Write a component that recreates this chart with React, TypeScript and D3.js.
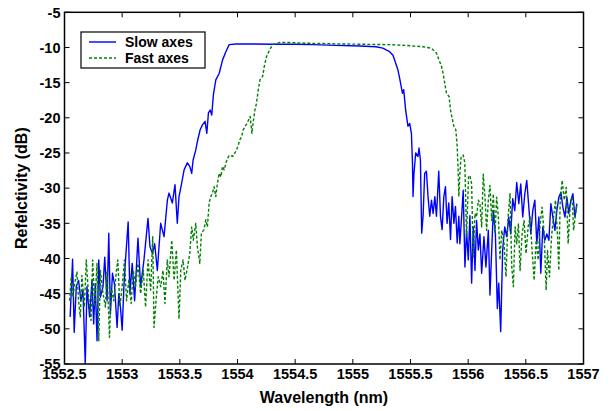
import React from 'react';
import * as d3 from 'd3';

// [wavelength (nm), reflectivity (dB)]
const slowAxes: [number, number][] = [
  [1552.549, -48.3], [1552.570, -40.1], [1552.584, -50.5], [1552.602, -44.0], [1552.622, -43.1], [1552.642, -46.0],
  [1552.660, -44.5], [1552.680, -55.0], [1552.695, -44.0], [1552.718, -48.3], [1552.738, -43.1], [1552.753, -49.3],
  [1552.767, -43.6], [1552.782, -51.7], [1552.797, -40.2], [1552.811, -45.5], [1552.834, -44.0], [1552.849, -39.8],
  [1552.869, -46.0], [1552.884, -36.4], [1552.898, -47.9], [1552.916, -42.1], [1552.933, -43.6], [1552.956, -49.8],
  [1552.971, -45.0], [1552.985, -46.9], [1553.000, -50.2], [1553.015, -44.0], [1553.029, -40.2], [1553.052, -34.8],
  [1553.067, -45.0], [1553.087, -40.7], [1553.108, -46.0], [1553.137, -37.1], [1553.160, -44.0], [1553.189, -40.2],
  [1553.224, -34.3], [1553.241, -38.3], [1553.262, -39.3], [1553.282, -37.9], [1553.305, -41.7], [1553.334, -35.0],
  [1553.363, -36.9], [1553.392, -31.7], [1553.406, -30.7], [1553.435, -32.1], [1553.458, -29.5], [1553.478, -35.0],
  [1553.493, -31.2], [1553.516, -29.3], [1553.537, -27.4], [1553.565, -26.4], [1553.586, -26.9], [1553.603, -27.9],
  [1553.615, -26.0], [1553.638, -24.6], [1553.652, -23.4], [1553.676, -21.7], [1553.696, -21.0], [1553.719, -20.5],
  [1553.734, -22.2], [1553.748, -19.3], [1553.763, -18.9], [1553.777, -19.6], [1553.791, -16.7], [1553.812, -14.6],
  [1553.841, -13.7], [1553.870, -11.8], [1553.899, -10.6], [1553.928, -9.6], [1553.986, -9.5], [1554.1, -9.5],
  [1554.3, -9.55], [1554.5, -9.55], [1554.655, -9.6], [1554.85, -9.7], [1555.06, -9.8], [1555.2, -9.9],
  [1555.26, -10.1], [1555.319, -10.6], [1555.348, -11.1], [1555.371, -12.2], [1555.391, -13.2], [1555.406, -14.4],
  [1555.430, -16.5], [1555.441, -16.0], [1555.458, -18.9], [1555.470, -20.3], [1555.478, -21.2], [1555.493, -20.8],
  [1555.508, -22.2], [1555.517, -26.4], [1555.522, -31.2], [1555.530, -27.9], [1555.545, -25.0], [1555.565, -25.5],
  [1555.574, -24.3], [1555.586, -26.0], [1555.597, -36.4], [1555.609, -34.0], [1555.623, -27.9], [1555.638, -27.6],
  [1555.652, -31.2], [1555.667, -34.0], [1555.682, -31.7], [1555.696, -33.6], [1555.711, -31.2], [1555.725, -34.0],
  [1555.745, -27.6], [1555.760, -34.0], [1555.774, -35.9], [1555.789, -31.2], [1555.803, -29.8], [1555.817, -35.0],
  [1555.832, -32.1], [1555.847, -37.3], [1555.861, -31.2], [1555.876, -35.0], [1555.890, -32.6], [1555.905, -37.8],
  [1555.919, -34.0], [1555.928, -37.9], [1555.943, -34.1], [1555.957, -30.3], [1555.972, -41.2], [1555.986, -36.0],
  [1556.001, -40.2], [1556.015, -33.9], [1556.030, -43.5], [1556.044, -35.5], [1556.059, -41.7], [1556.073, -34.6],
  [1556.088, -38.8], [1556.102, -36.5], [1556.117, -42.1], [1556.137, -36.9], [1556.154, -41.2], [1556.175, -36.0],
  [1556.189, -45.2], [1556.204, -38.8], [1556.218, -33.2], [1556.236, -36.5], [1556.253, -47.1], [1556.265, -43.5],
  [1556.282, -50.4], [1556.299, -38.8], [1556.317, -35.5], [1556.334, -36.9], [1556.352, -34.1], [1556.369, -36.5],
  [1556.386, -31.5], [1556.404, -33.2], [1556.421, -29.2], [1556.439, -32.2], [1556.456, -29.4], [1556.473, -34.1],
  [1556.491, -30.8], [1556.508, -28.9], [1556.526, -32.7], [1556.543, -36.5], [1556.560, -33.2], [1556.578, -31.7],
  [1556.595, -37.9], [1556.613, -34.1], [1556.630, -42.1], [1556.647, -35.5], [1556.665, -37.4], [1556.682, -36.5],
  [1556.700, -37.4], [1556.717, -32.2], [1556.734, -34.1], [1556.752, -36.0], [1556.769, -33.2], [1556.786, -31.3],
  [1556.804, -30.6], [1556.821, -32.7], [1556.839, -34.1], [1556.856, -31.3], [1556.873, -33.6], [1556.891, -31.7],
  [1556.908, -30.8], [1556.926, -34.1], [1556.943, -32.2],
];

const fastAxes: [number, number][] = [
  [1552.544, -46.0], [1552.558, -42.6], [1552.573, -45.5], [1552.593, -43.1], [1552.608, -41.9], [1552.622, -46.0],
  [1552.637, -48.3], [1552.651, -42.4], [1552.672, -46.9], [1552.689, -40.2], [1552.709, -45.5], [1552.730, -48.8],
  [1552.744, -40.2], [1552.762, -46.9], [1552.782, -40.7], [1552.797, -51.7], [1552.811, -41.7], [1552.834, -45.0],
  [1552.855, -46.9], [1552.869, -41.7], [1552.890, -51.2], [1552.904, -44.0], [1552.927, -46.0], [1552.948, -42.1],
  [1552.962, -40.2], [1552.980, -46.9], [1553.000, -44.0], [1553.020, -40.2], [1553.038, -46.0], [1553.058, -43.1],
  [1553.078, -46.4], [1553.096, -41.7], [1553.116, -44.0], [1553.137, -40.7], [1553.160, -45.0], [1553.183, -41.7],
  [1553.203, -46.9], [1553.224, -40.2], [1553.247, -44.5], [1553.265, -36.9], [1553.276, -49.8], [1553.296, -45.5],
  [1553.313, -42.6], [1553.334, -44.0], [1553.354, -41.7], [1553.371, -46.4], [1553.391, -40.2], [1553.406, -42.6],
  [1553.430, -37.4], [1553.450, -43.1], [1553.470, -38.8], [1553.493, -48.6], [1553.508, -41.7], [1553.528, -40.2],
  [1553.545, -43.1], [1553.565, -41.4], [1553.586, -39.3], [1553.603, -35.5], [1553.617, -37.4], [1553.638, -35.0],
  [1553.652, -38.3], [1553.673, -40.7], [1553.687, -36.4], [1553.710, -35.9], [1553.725, -34.5], [1553.739, -35.5],
  [1553.754, -32.1], [1553.768, -31.2], [1553.783, -30.7], [1553.797, -29.8], [1553.812, -31.2], [1553.826, -29.3],
  [1553.841, -27.9], [1553.856, -28.4], [1553.870, -26.9], [1553.884, -27.4], [1553.904, -26.2], [1553.922, -25.5],
  [1553.937, -25.3], [1553.957, -25.5], [1553.977, -25.0], [1553.991, -24.6], [1554.006, -23.9], [1554.021, -23.1],
  [1554.035, -22.7], [1554.050, -21.7], [1554.067, -21.2], [1554.082, -20.8], [1554.096, -20.3], [1554.110, -19.8],
  [1554.125, -22.2], [1554.137, -20.5], [1554.151, -18.9], [1554.165, -17.9], [1554.180, -16.0], [1554.195, -14.6],
  [1554.218, -14.1], [1554.232, -12.7], [1554.252, -11.3], [1554.276, -10.4], [1554.304, -9.6], [1554.363, -9.3],
  [1554.450, -9.3], [1554.6, -9.4], [1554.9, -9.5], [1555.1, -9.55], [1555.319, -9.6], [1555.45, -9.7],
  [1555.609, -9.9], [1555.682, -10.1], [1555.725, -10.8], [1555.748, -11.8], [1555.769, -12.7], [1555.783, -13.7],
  [1555.797, -15.1], [1555.812, -16.5], [1555.835, -17.0], [1555.847, -18.9], [1555.858, -19.8], [1555.876, -21.2],
  [1555.893, -21.7], [1555.905, -24.1], [1555.913, -27.4], [1555.919, -31.2], [1555.928, -27.9], [1555.939, -25.5],
  [1555.957, -25.3], [1555.971, -26.4], [1555.986, -36.9], [1556.003, -28.4], [1556.015, -28.2], [1556.030, -29.4],
  [1556.044, -39.8], [1556.059, -33.6], [1556.073, -34.1], [1556.088, -31.7], [1556.102, -32.2], [1556.117, -35.5],
  [1556.131, -28.0], [1556.146, -31.3], [1556.160, -36.0], [1556.175, -31.7], [1556.189, -29.6], [1556.204, -34.6],
  [1556.218, -30.8], [1556.233, -36.5], [1556.247, -31.3], [1556.262, -34.1], [1556.276, -40.2], [1556.291, -36.0],
  [1556.311, -37.9], [1556.328, -42.6], [1556.346, -34.1], [1556.363, -30.8], [1556.378, -41.2], [1556.392, -44.0],
  [1556.407, -35.5], [1556.421, -37.9], [1556.436, -35.0], [1556.450, -41.7], [1556.468, -36.5], [1556.485, -34.6],
  [1556.502, -39.3], [1556.520, -35.5], [1556.537, -34.1], [1556.554, -38.8], [1556.572, -43.1], [1556.589, -37.4],
  [1556.607, -40.2], [1556.624, -35.0], [1556.641, -32.7], [1556.659, -36.5], [1556.676, -44.5], [1556.688, -38.8],
  [1556.705, -42.6], [1556.723, -36.9], [1556.740, -34.1], [1556.757, -31.7], [1556.775, -36.9], [1556.786, -41.7],
  [1556.798, -31.7], [1556.815, -28.9], [1556.833, -31.7], [1556.850, -29.9], [1556.867, -37.9], [1556.885, -32.2],
  [1556.902, -31.3], [1556.914, -36.0], [1556.928, -34.1], [1556.943, -32.2],
];

const xTicks = [1552.5, 1553, 1553.5, 1554, 1554.5, 1555, 1555.5, 1556, 1556.5, 1557];
const yTicks = [-55, -50, -45, -40, -35, -30, -25, -20, -15, -10, -5];
const seriesNames = ['Slow axes', 'Fast axes'];
const seriesColors = ['#0000ff', '#008000'];

const FONT = '"Liberation Sans", Arial, Helvetica, sans-serif';

export default function App() {
  const width = 610;
  const height = 411;
  const plot = { left: 64.5, right: 583.5, top: 12.3, bottom: 364 };

  const x = d3.scaleLinear().domain([1552.5, 1557]).range([plot.left, plot.right]);
  const y = d3.scaleLinear().domain([-55, -5]).range([plot.bottom, plot.top]);

  const line = d3
    .line<[number, number]>()
    .x((d) => x(d[0]))
    .y((d) => y(d[1]));

  const tickLen = 5;

  return (
    <svg
      width={width}
      height={height}
      style={{ position: 'absolute', left: 0, top: 0, background: '#fff' }}
      fontFamily={FONT}
      fontWeight="bold"
    >
      <defs>
        <clipPath id="plot-clip">
          <rect x={plot.left} y={plot.top} width={plot.right - plot.left} height={plot.bottom - plot.top} />
        </clipPath>
      </defs>

      {/* data lines */}
      <g clipPath="url(#plot-clip)">
        <path d={line(slowAxes) || ''} fill="none" stroke={seriesColors[0]} strokeWidth={1.4} strokeLinejoin="round" />
        <path
          d={line(fastAxes) || ''}
          fill="none"
          stroke={seriesColors[1]}
          strokeWidth={1.4}
          strokeDasharray="3,2"
          strokeLinejoin="round"
        />
      </g>

      {/* frame */}
      <rect
        x={plot.left}
        y={plot.top}
        width={plot.right - plot.left}
        height={plot.bottom - plot.top}
        fill="none"
        stroke="#000"
        strokeWidth={1.5}
      />

      {/* x ticks */}
      {xTicks.map((t) => (
        <g key={'x' + t}>
          <line x1={x(t)} x2={x(t)} y1={plot.bottom} y2={plot.bottom - tickLen} stroke="#000" />
          <line x1={x(t)} x2={x(t)} y1={plot.top} y2={plot.top + tickLen} stroke="#000" />
          <text x={x(t)} y={379} textAnchor="middle" fontSize={14.5} fill="#000">
            {t}
          </text>
        </g>
      ))}

      {/* y ticks */}
      {yTicks.map((t) => (
        <g key={'y' + t}>
          <line x1={plot.left} x2={plot.left + tickLen} y1={y(t)} y2={y(t)} stroke="#000" />
          <line x1={plot.right} x2={plot.right - tickLen} y1={y(t)} y2={y(t)} stroke="#000" />
          <text x={plot.left - 4} y={y(t)} dy="0.36em" textAnchor="end" fontSize={14.5} fill="#000">
            {t}
          </text>
        </g>
      ))}

      {/* axis labels */}
      <text x={(plot.left + plot.right) / 2} y={403} textAnchor="middle" fontSize={16} fill="#000">
        Wavelength (nm)
      </text>
      <text
        transform={`translate(27,${(plot.top + plot.bottom) / 2}) rotate(-90)`}
        textAnchor="middle"
        fontSize={16}
        fill="#000"
      >
        Refelctivity (dB)
      </text>

      {/* legend */}
      <g>
        <rect x={81} y={32} width={124} height={36} fill="#fff" stroke="#000" strokeWidth={1.2} />
        {seriesNames.map((name, i) => (
          <g key={name}>
            <line
              x1={89}
              x2={116}
              y1={42 + i * 16}
              y2={42 + i * 16}
              stroke={seriesColors[i]}
              strokeWidth={1.4}
              strokeDasharray={i === 1 ? '3,2' : undefined}
            />
            <text x={125} y={42 + i * 16} dy="0.36em" fontSize={14} fill="#000">
              {name}
            </text>
          </g>
        ))}
      </g>
    </svg>
  );
}
